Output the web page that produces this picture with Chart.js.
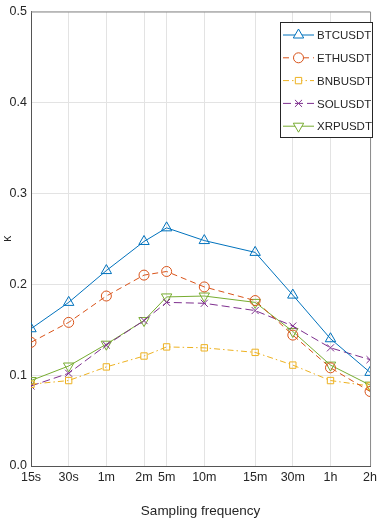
<!DOCTYPE html>
<html>
<head>
<meta charset="utf-8">
<script src="https://cdn.jsdelivr.net/npm/chart.js@4"></script>
<style>
  html, body { margin: 0; padding: 0; background: #fff; }
  #wrap { width: 381px; height: 523px; }
</style>
</head>
<body>
<div id="wrap"><canvas id="chart" width="381" height="523"></canvas></div>
<script>
// --- DATA ---
const TICK_LABELS = ['15s', '30s', '1m', '2m', '5m', '10m', '15m', '30m', '1h', '2h'];
const TICK_POS = [0, 1, 2, 3, 3.6, 4.6, 5.95, 6.95, 7.95, 9];

const BTC = [0.151, 0.180, 0.215, 0.247, 0.262, 0.248, 0.235, 0.188, 0.140, 0.103];
const ETH = [0.136, 0.158, 0.187, 0.210, 0.214, 0.197, 0.182, 0.144, 0.108, 0.082];
const BNB = [0.090, 0.094, 0.109, 0.121, 0.131, 0.130, 0.125, 0.111, 0.094, 0.088];
const SOL = [0.088, 0.102, 0.133, 0.160, 0.180, 0.179, 0.171, 0.154, 0.130, 0.117];
const XRP = [0.094, 0.110, 0.134, 0.160, 0.186, 0.187, 0.180, 0.148, 0.111, 0.089];

const FONT = '"Liberation Sans Narrow", "Liberation Sans", Arial, sans-serif';
const TXT = '#262626';

function pts(vals) { return vals.map((v, i) => ({ x: TICK_POS[i], y: v })); }

function ds(label, vals, color, style, dash, rot, radius) {
    return {
        label, data: pts(vals),
        borderColor: color, backgroundColor: color,
        borderWidth: 1, borderDash: dash,
        pointStyle: style, pointRotation: rot || 0, pointRadius: radius,
        pointBorderColor: color, pointBackgroundColor: 'rgba(0,0,0,0)',
        pointBorderWidth: 1, tension: 0
    };
}

// legende dans le cadre, comme matlab
const boxLegend = {
    id: 'boxLegend',
    afterDraw(chart) {
        const { ctx, chartArea: { left, right, top, bottom } } = chart;
        ctx.save();
        // cadre haut / droite
        ctx.strokeStyle = '#8a8a8a'; ctx.lineWidth = 1; ctx.setLineDash([]);
        ctx.beginPath();
        ctx.moveTo(left, top + 0.5); ctx.lineTo(right + 0.5, top + 0.5); ctx.lineTo(right + 0.5, bottom);
        ctx.stroke();

        const x0 = 280, y0 = 22, w = 92, h = 115;
        ctx.fillStyle = '#fff';
        ctx.fillRect(x0, y0, w, h);
        ctx.strokeStyle = '#262626';
        ctx.strokeRect(x0 + 0.5, y0 + 0.5, w, h);
        chart.data.datasets.forEach((d, i) => {
            const y = 35 + i * 22.8;
            ctx.strokeStyle = d.borderColor; ctx.lineWidth = 1;
            ctx.setLineDash(d.borderDash || []);
            ctx.beginPath(); ctx.moveTo(283, y); ctx.lineTo(314, y); ctx.stroke();
            ctx.setLineDash([]);
            ctx.fillStyle = '#fff';
            Chart.helpers.drawPoint(ctx, { pointStyle: d.pointStyle, rotation: d.pointRotation, radius: d.pointRadius, borderWidth: 1 }, 298.5, y);
            ctx.fillStyle = TXT; ctx.font = '11.5px ' + FONT;
            ctx.textAlign = 'left'; ctx.textBaseline = 'middle';
            ctx.fillText(d.label, 317, y + 1);
        });
        ctx.restore();
    }
};

const datasets = [
    ds('BTCUSDT', BTC, '#0072BD', 'triangle', [], 0, 6),
    ds('ETHUSDT', ETH, '#D95319', 'circle', [6, 4], 0, 5),
    ds('BNBUSDT', BNB, '#EDB120', 'rect', [6, 3, 1.5, 3], 0, 4.5),
    ds('SOLUSDT', SOL, '#7E2F8E', 'crossRot', [8, 4], 0, 5),
    ds('XRPUSDT', XRP, '#77AC30', 'triangle', [], 180, 6)
];

new Chart(document.getElementById('chart'), {
    type: 'line',
    data: { datasets },
    options: {
        responsive: false, animation: false,
        layout: { padding: { top: 7, right: 4, left: 0, bottom: 0 } },
        plugins: { legend: { display: false }, tooltip: { enabled: false } },
        scales: {
            x: {
                type: 'linear', min: 0, max: 9,
                afterBuildTicks: s => { s.ticks = TICK_POS.map(v => ({ value: v })); },
                afterFit: s => { s.height = 57; },
                ticks: {
                    autoSkip: false, maxRotation: 0, color: TXT, padding: 4,
                    font: { family: FONT, size: 12.5 },
                    callback: (v, i) => TICK_LABELS[i]
                },
                grid: { color: '#e3e3e3', drawTicks: false },
                border: { color: '#555', width: 1 },
                title: { display: true, text: 'Sampling frequency', color: TXT, font: { family: FONT, size: 13.5 }, padding: { top: 6 } }
            },
            y: {
                min: 0, max: 0.5,
                afterFit: s => { s.width = 31; },
                ticks: {
                    stepSize: 0.1, color: TXT, padding: 4,
                    font: { family: FONT, size: 12.5 },
                    callback: v => v.toFixed(1)
                },
                grid: { color: '#e3e3e3', drawTicks: false },
                border: { color: '#555', width: 1 },
                title: { display: true, text: 'κ', color: TXT, font: { family: FONT, size: 12 }, padding: 0 }
            }
        }
    },
    plugins: [boxLegend]
});
</script>
</body>
</html>
